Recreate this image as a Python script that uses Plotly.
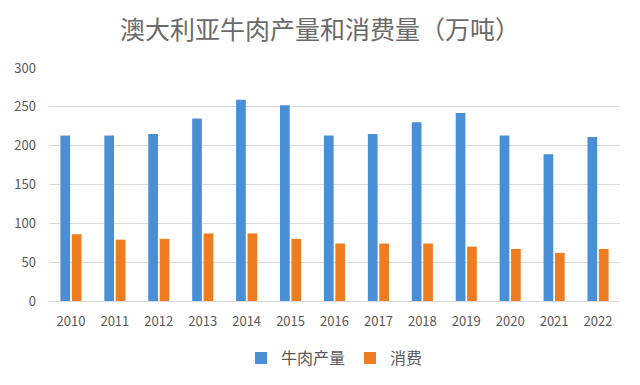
import plotly.graph_objects as go

years = ["2010", "2011", "2012", "2013", "2014", "2015", "2016",
         "2017", "2018", "2019", "2020", "2021", "2022"]
production = [213, 213, 215, 235, 259, 252, 213, 215, 230, 242, 213, 189, 211]
consumption = [86, 79, 80, 87, 87, 80, 74, 74, 74, 70, 67, 62, 67]

font_family = "Noto Sans CJK SC, Noto Sans, sans-serif"
grey = "#595959"

# page has an 8px body margin, so figure is sized to fit the 640x385 window
W, H = 632, 369
L, R, T = 41, 20, 60
B = H - 292.7

fig = go.Figure()
fig.add_trace(go.Bar(x=years, y=production, name="牛肉产量",
                     marker=dict(color="#4a8fd6", line=dict(width=0))))
fig.add_trace(go.Bar(x=years, y=consumption, name="消费",
                     marker=dict(color="#ee7d22", line=dict(width=0))))

plot_h = H - T - B
fig.update_layout(
    width=W, height=H,
    margin=dict(l=L, r=R, t=T, b=B, pad=0, autoexpand=False),
    paper_bgcolor="white", plot_bgcolor="white",
    barmode="group", bargap=0.48, bargroupgap=0.15,
    title=dict(text="澳大利亚牛肉产量和消费量（万吨）", x=(320 - 8) / W, xanchor="center",
               y=1 - 22 / H, yanchor="middle", yref="container", xref="container",
               font=dict(family=font_family, size=25, color="#6a6a6a")),
    font=dict(family=font_family, color=grey, size=13),
    showlegend=True,
    legend=dict(orientation="h", x=0.5, xanchor="center", y=-57 / plot_h, yanchor="middle",
                font=dict(size=16, color=grey), itemwidth=30, traceorder="normal"),
    xaxis=dict(showgrid=False, showline=True, linecolor="#d9d9d9", ticks="",
               tickfont=dict(size=13, color=grey), ticklabelstandoff=8, automargin=False),
    yaxis=dict(range=[0, 300], dtick=50, showgrid=True, gridcolor="#d9d9d9",
               zeroline=False, ticks="", tickfont=dict(size=13, color=grey),
               ticklabelstandoff=12, automargin=False),
)

fig.write_html("out.html")
